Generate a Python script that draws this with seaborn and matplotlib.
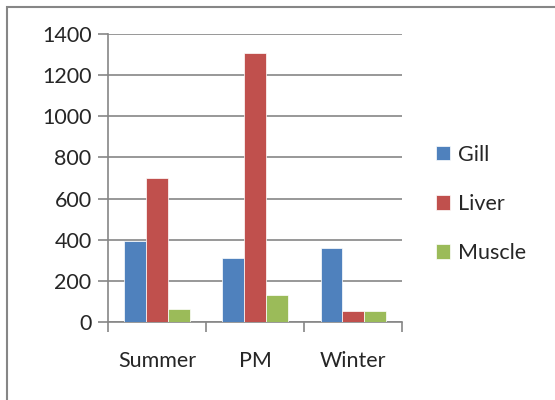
import pandas as pd
import matplotlib.pyplot as plt
import seaborn as sns
from matplotlib.patches import Rectangle

seasons = ['Summer', 'PM', 'Winter']
gill = [392, 311, 360]
liver = [700, 1310, 52]
muscle = [62, 133, 52]

df = pd.DataFrame({'Season': seasons * 3,
                   'Tissue': ['Gill'] * 3 + ['Liver'] * 3 + ['Muscle'] * 3,
                   'Value': gill + liver + muscle})

sns.set_style('white')
plt.rcParams['font.family'] = ['Lato', 'DejaVu Sans']

fig = plt.figure(figsize=(5.55, 4), dpi=100)
ax = fig.add_axes([0.195, 0.195, 0.53, 0.72])

colors = ['#4f81bd', '#c0504d', '#9bbb59']
sns.barplot(data=df, x='Season', y='Value', hue='Tissue', palette=colors,
            width=0.67, saturation=1, ax=ax, zorder=3,
            edgecolor='white', linewidth=0.5)

ax.set_ylim(0, 1400)
ax.set_xlim(-0.5, 2.5)
ax.set_yticks(range(0, 1401, 200))
ax.yaxis.grid(True, color='#868686', linewidth=1.2, zorder=0)
ax.set_xlabel('')
ax.set_ylabel('')
for s in ['top', 'right']:
    ax.spines[s].set_visible(False)
for s in ['left', 'bottom']:
    ax.spines[s].set_color('#868686')
    ax.spines[s].set_linewidth(1.2)
ax.tick_params(axis='y', length=7, color='#868686', width=1.2, labelsize=15.5, pad=5, left=True)
ax.tick_params(axis='x', length=0, labelsize=15.5, pad=21)
ax.set_xticks([0, 1, 2])
ax.set_xticks([-0.5, 0.5, 1.5, 2.5], minor=True)
ax.tick_params(axis='x', which='minor', length=7, color='#868686', width=1.2, bottom=True)

ax.legend(loc='center left', bbox_to_anchor=(1.05, 0.41), frameon=False,
          fontsize=15.5, handlelength=0.65, handleheight=0.65, labelspacing=1.35,
          handletextpad=0.35)

fig.patches.append(Rectangle((0.013, -0.1), 1.2, 1.083, transform=fig.transFigure,
                             fill=False, edgecolor='#868686', linewidth=1.5))

fig.savefig('out.png', dpi=100)
